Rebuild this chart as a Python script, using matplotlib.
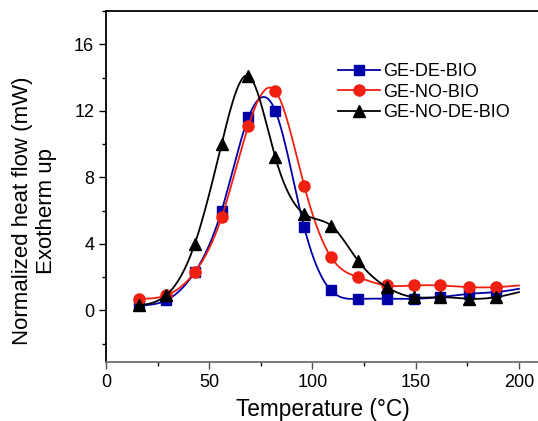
import numpy as np
import matplotlib.pyplot as plt
from matplotlib.ticker import MultipleLocator

plt.rcParams["font.family"] = ["Liberation Sans", "DejaVu Sans"]

temp = [16, 29, 43, 56, 69, 82, 96, 109, 122, 136, 149, 162, 176, 189]
ge_de_bio = [0.3, 0.6, 2.3, 6.0, 11.6, 12.0, 5.0, 1.2, 0.7, 0.7, 0.7, 0.8, 1.0, 1.1]
ge_no_bio = [0.7, 0.9, 2.3, 5.6, 11.1, 13.2, 7.5, 3.2, 2.0, 1.5, 1.5, 1.5, 1.4, 1.4]
ge_no_de_bio = [0.3, 0.9, 4.0, 10.0, 14.1, 9.2, 5.8, 5.1, 3.0, 1.4, 0.8, 0.8, 0.7, 0.8]
# value of each curve where the line ends (no marker there)
end_temp = 200
end_vals = [1.3, 1.5, 1.1]


def spline(x, y, n=400):
    # natural cubic spline, only used to draw the smooth connecting line
    x = np.asarray(x, float)
    y = np.asarray(y, float)
    k = len(x)
    h = np.diff(x)
    A = np.zeros((k, k))
    b = np.zeros(k)
    A[0, 0] = A[-1, -1] = 1
    for i in range(1, k - 1):
        A[i, i - 1] = h[i - 1]
        A[i, i] = 2 * (h[i - 1] + h[i])
        A[i, i + 1] = h[i]
        b[i] = 6 * ((y[i + 1] - y[i]) / h[i] - (y[i] - y[i - 1]) / h[i - 1])
    m = np.linalg.solve(A, b)
    xs = np.linspace(x[0], x[-1], n)
    j = np.clip(np.searchsorted(x, xs) - 1, 0, k - 2)
    t0 = x[j + 1] - xs
    t1 = xs - x[j]
    hj = h[j]
    ys = (m[j] * t0**3 + m[j + 1] * t1**3) / (6 * hj) \
        + (y[j] / hj - m[j] * hj / 6) * t0 + (y[j + 1] / hj - m[j + 1] * hj / 6) * t1
    return xs, ys


fig = plt.figure(figsize=(5.38, 4.21), dpi=100)
ax = fig.add_axes([106 / 538, 59 / 421, 434 / 538, 351 / 421])

series = [
    (ge_de_bio, "#0000A8", "s", 7, "GE-DE-BIO"),
    (ge_no_bio, "#F02010", "o", 8, "GE-NO-BIO"),
    (ge_no_de_bio, "black", "^", 8, "GE-NO-DE-BIO"),
]
for (vals, col, mk, ms, lab), ev in zip(series, end_vals):
    xs, ys = spline(temp + [end_temp], vals + [ev])
    ax.plot(xs, ys, color=col, lw=1.3)
    ax.plot(temp, vals, color=col, marker=mk, ms=ms, ls="none")
    ax.plot([], [], color=col, lw=1.3, marker=mk, ms=ms, label=lab)

ax.set_xlim(0, 210.2)
ax.set_ylim(-3.1, 18)
ax.xaxis.set_major_locator(MultipleLocator(50))
ax.xaxis.set_minor_locator(MultipleLocator(25))
ax.yaxis.set_major_locator(MultipleLocator(4))
ax.yaxis.set_minor_locator(MultipleLocator(2))
ax.tick_params(which="both", direction="out", labelsize=13, width=1)
ax.tick_params(which="major", length=5)
ax.tick_params(which="minor", length=3)
ax.tick_params(axis="x", colors="#505050", labelcolor="black")
ax.spines["right"].set_visible(False)
ax.spines["bottom"].set_color("#707070")
for s in ["left", "top", "bottom"]:
    ax.spines[s].set_linewidth(1.3)

ax.set_xlabel("Temperature (°C)", fontsize=16.3, labelpad=5)
fig.text(34.5 / 538, 1 - 211 / 421, "Normalized heat flow (mW)\nExotherm up",
         fontsize=16, rotation=90, ha="center", va="center", linespacing=1.2)

ax.legend(loc="upper left", bbox_to_anchor=((338 - 106) / 434, (362 - 63) / 351),
          frameon=False, fontsize=13, borderpad=0, borderaxespad=0,
          handlelength=2.3, labelspacing=0.2, handletextpad=0.2)

fig.savefig("out.png", dpi=100)
